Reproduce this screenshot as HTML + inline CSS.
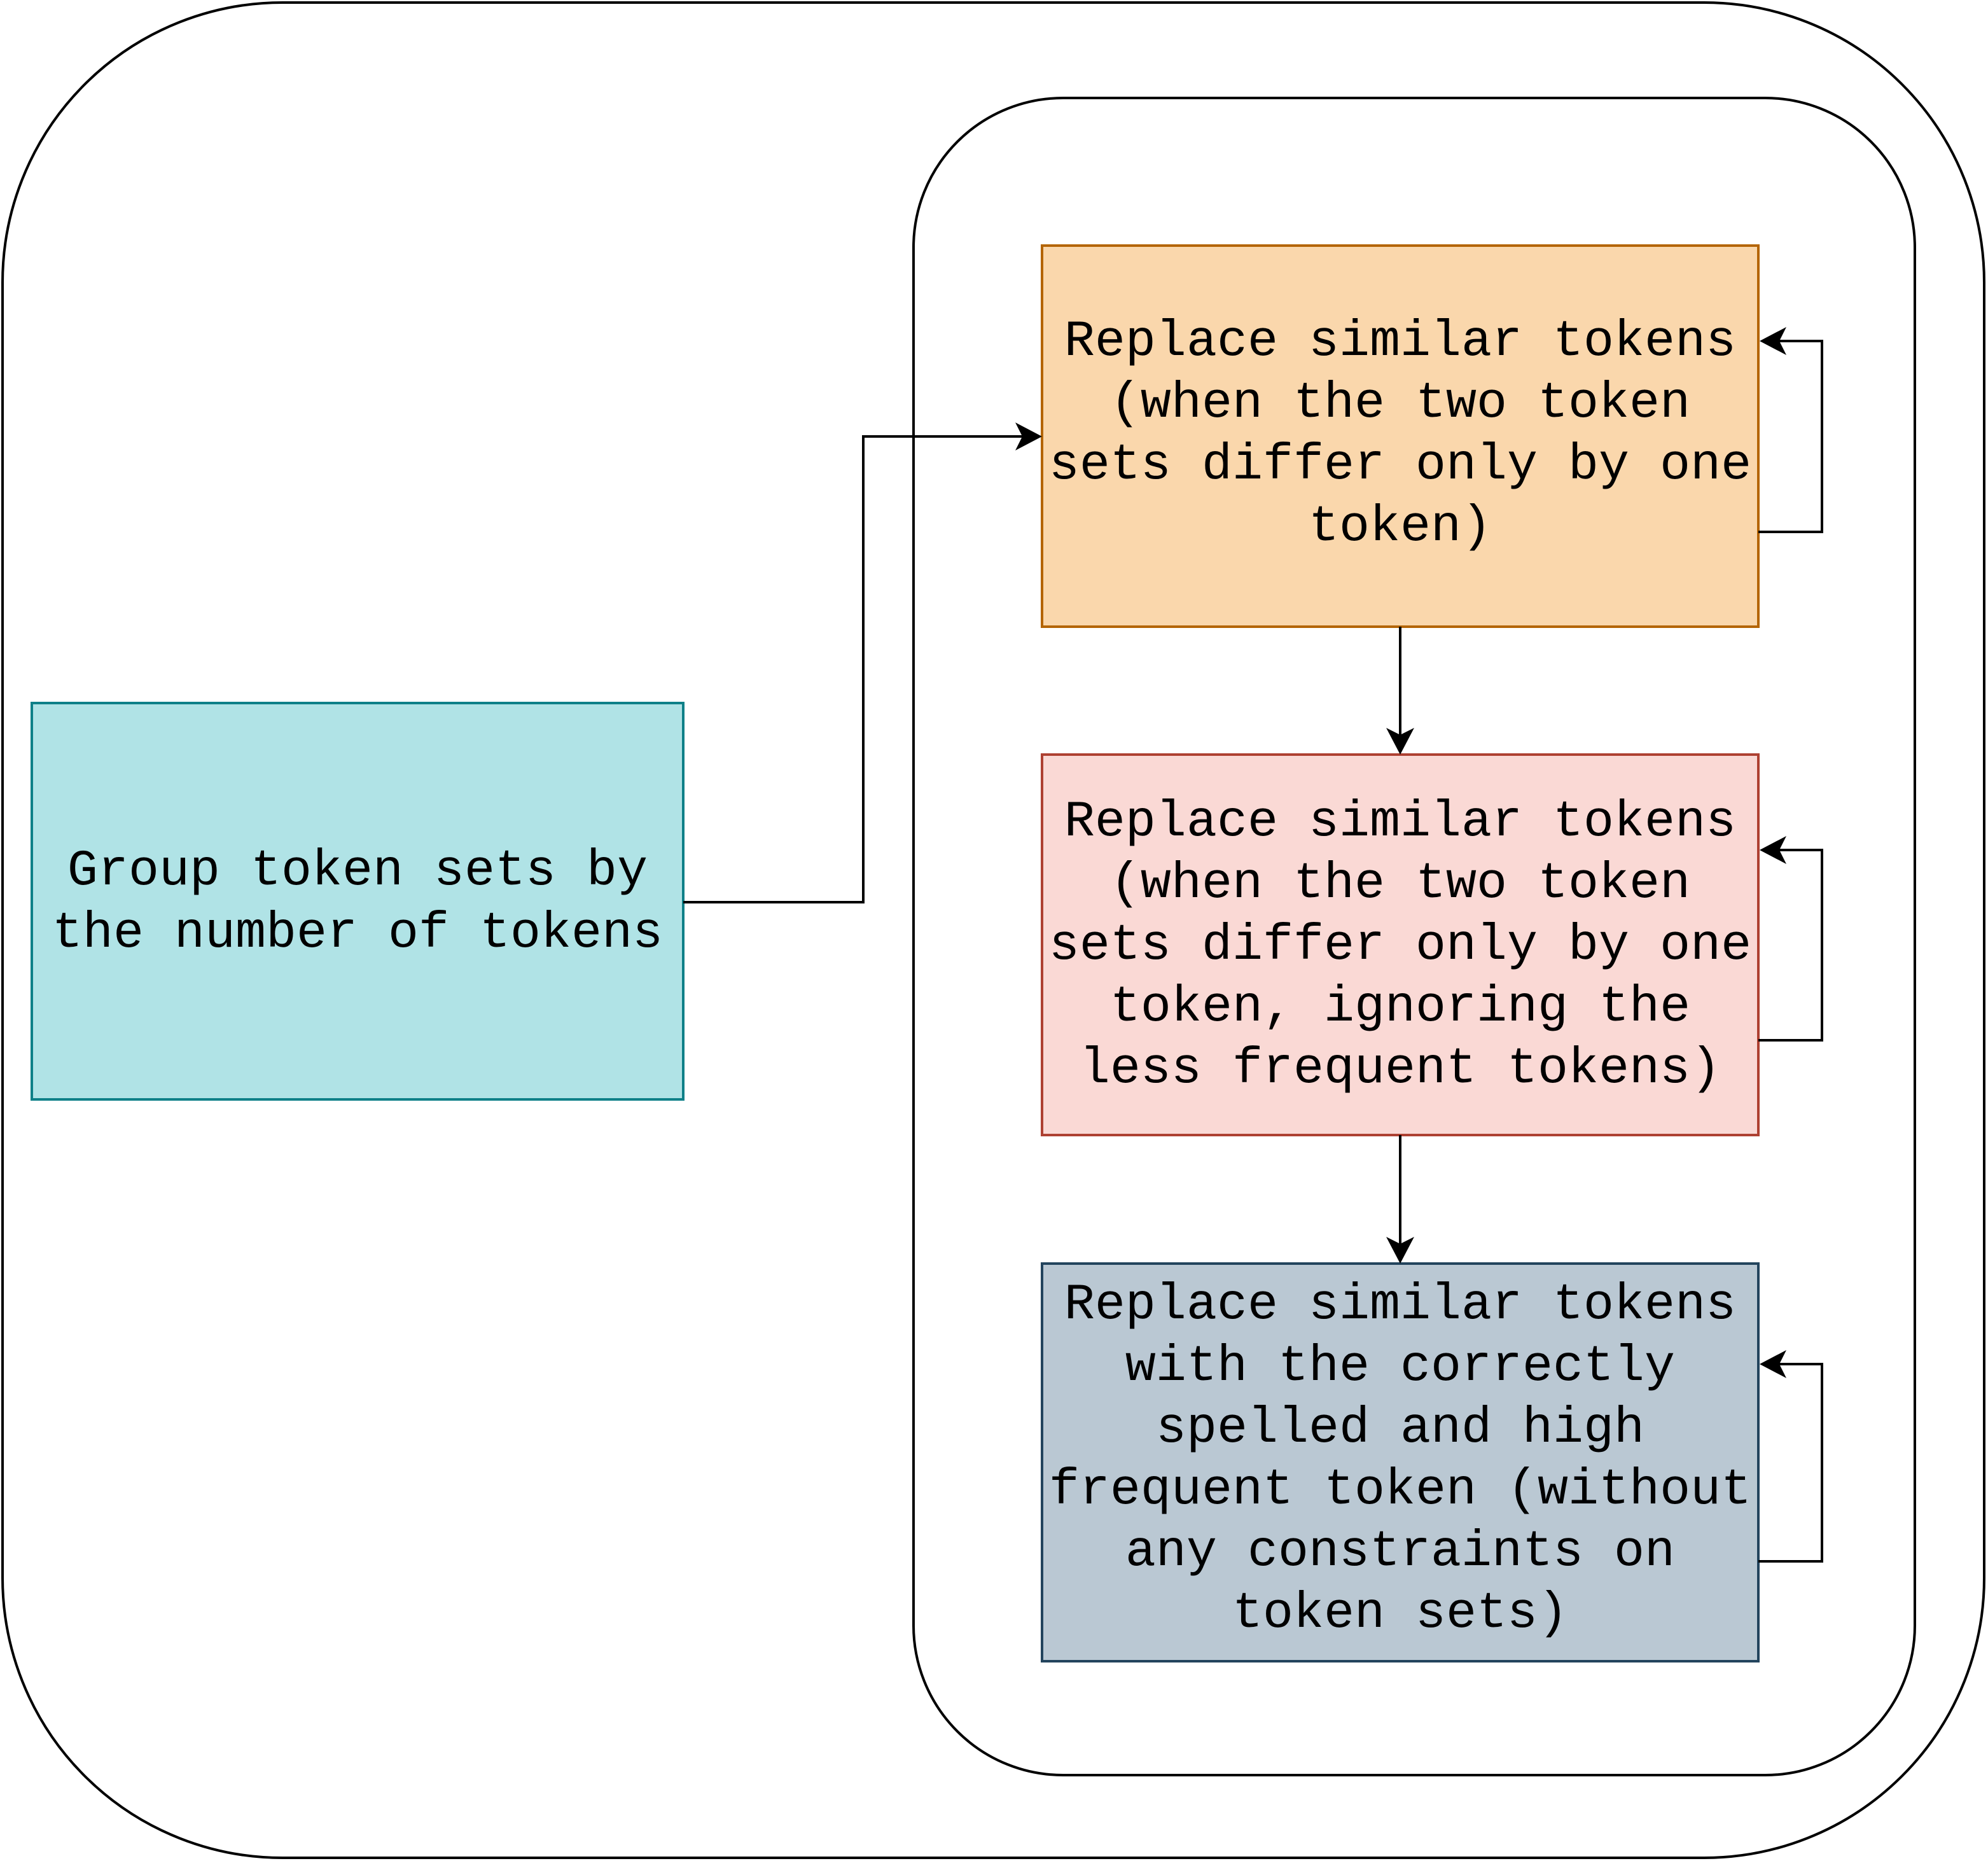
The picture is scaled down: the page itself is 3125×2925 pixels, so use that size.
<!DOCTYPE html>
<html><head><meta charset="utf-8"><style>
html,body{margin:0;padding:0;background:#fff;}
svg{display:block;}
text{font-family:"Liberation Mono","Courier New",monospace;font-size:80px;fill:#000;}
</style></head><body>
<svg width="3125" height="2925" viewBox="0 0 3125 2925" xmlns="http://www.w3.org/2000/svg">
<defs>
<marker id="a" markerWidth="10" markerHeight="10" refX="9" refY="5" orient="auto" markerUnits="userSpaceOnUse" viewBox="0 0 10 10">
</marker>
</defs>
<rect x="4" y="4" width="3115" height="2916" rx="440" ry="440" fill="#fff" stroke="#000" stroke-width="4"/>
<rect x="1436" y="154" width="1574" height="2636" rx="235" ry="235" fill="#fff" stroke="#000" stroke-width="4"/>

<rect x="50" y="1105" width="1024" height="623" fill="#b0e3e6" stroke="#0e8088" stroke-width="4"/>
<rect x="1638" y="386" width="1126" height="599" fill="#fad7ac" stroke="#b46504" stroke-width="4"/>
<rect x="1638" y="1186" width="1126" height="598" fill="#fad9d5" stroke="#ae4132" stroke-width="4"/>
<rect x="1638" y="1986" width="1126" height="625" fill="#bac8d3" stroke="#23445d" stroke-width="4"/>

<g fill="none" stroke="#000" stroke-width="4">
<polyline points="1074,1418 1357,1418 1357,686 1615,686"/>
<polyline points="2764,836 2864,836 2864,536 2788,536"/>
<polyline points="2764,1635 2864,1635 2864,1336 2788,1336"/>
<polyline points="2764,2454 2864,2454 2864,2144 2788,2144"/>
<line x1="2201" y1="985" x2="2201" y2="1163"/>
<line x1="2201" y1="1784" x2="2201" y2="1963"/>
</g>
<g fill="#000">
<polygon points="1638,686 1596,664 1607,686 1596,708"/>
<polygon points="2766,536 2808,514 2797,536 2808,558"/>
<polygon points="2766,1336 2808,1314 2797,1336 2808,1358"/>
<polygon points="2766,2144 2808,2122 2797,2144 2808,2166"/>
<polygon points="2201,1186 2179,1144 2201,1155 2223,1144"/>
<polygon points="2201,1986 2179,1944 2201,1955 2223,1944"/>
</g>

<g text-anchor="middle">
<text x="562" y="1390">Group token sets by</text>
<text x="562" y="1488">the number of tokens</text>

<text x="2201" y="558">Replace similar tokens</text>
<text x="2201" y="655">(when the two token</text>
<text x="2201" y="752">sets differ only by one</text>
<text x="2201" y="849">token)</text>

<text x="2201" y="1313">Replace similar tokens</text>
<text x="2201" y="1410">(when the two token</text>
<text x="2201" y="1507">sets differ only by one</text>
<text x="2201" y="1604">token, ignoring the</text>
<text x="2201" y="1701">less frequent tokens)</text>

<text x="2201" y="2072">Replace similar tokens</text>
<text x="2201" y="2169">with the correctly</text>
<text x="2201" y="2266">spelled and high</text>
<text x="2201" y="2363">frequent token (without</text>
<text x="2201" y="2460">any constraints on</text>
<text x="2201" y="2557">token sets)</text>
</g>
</svg>
</body></html>
